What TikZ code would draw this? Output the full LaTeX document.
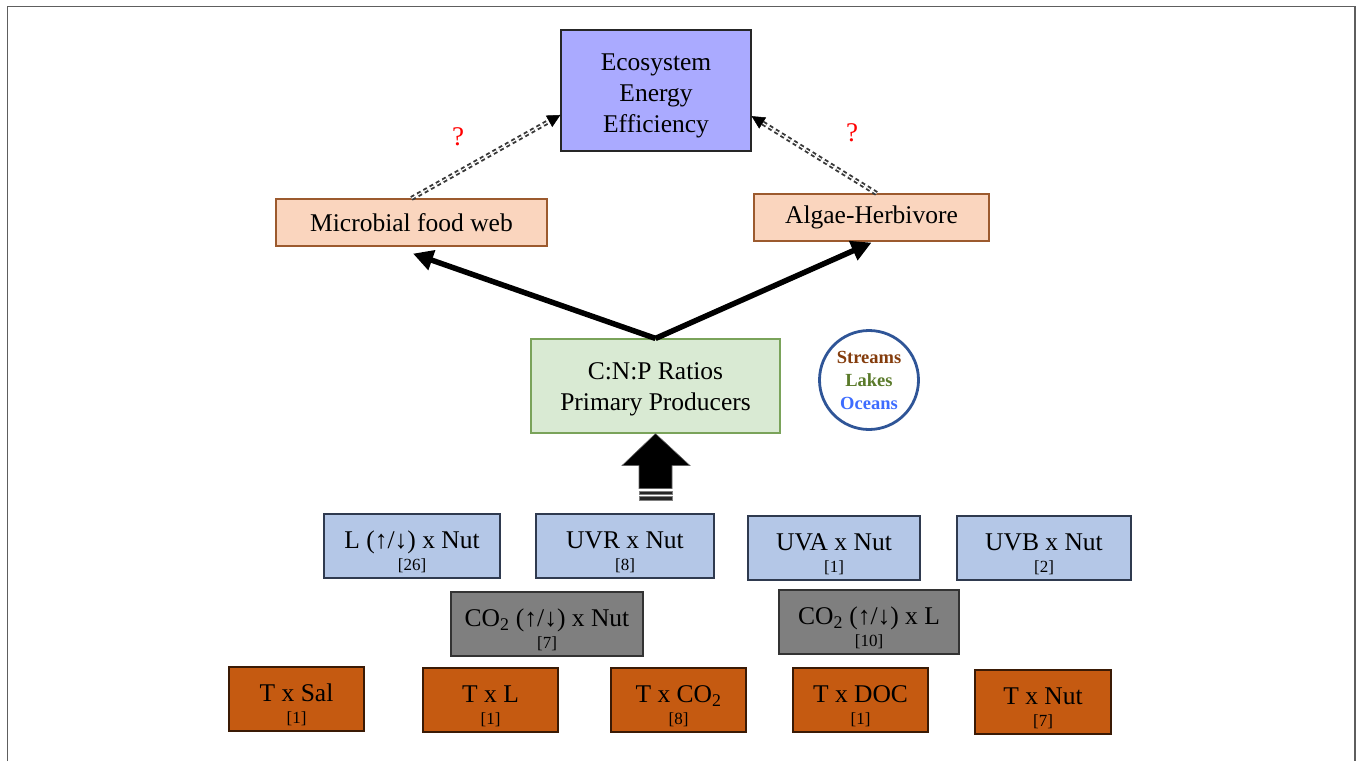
\documentclass[tikz,border=0pt]{standalone}
\usepackage{fontspec}
\setmainfont{Liberation Serif}
\usetikzlibrary{arrows.meta,calc}
\definecolor{ecofill}{HTML}{AAAAFF}
\definecolor{peachfill}{HTML}{FAD5BE}
\definecolor{peachdraw}{HTML}{9C5A2E}
\definecolor{greenfill}{HTML}{D9EAD3}
\definecolor{greendraw}{HTML}{7AA35A}
\definecolor{bluefill}{HTML}{B4C7E7}
\definecolor{bluedraw}{HTML}{2F3A4F}
\definecolor{grayfill}{HTML}{7F7F7F}
\definecolor{graydraw}{HTML}{333333}
\definecolor{orangefill}{HTML}{C55A11}
\definecolor{orangedraw}{HTML}{3A1A05}
\definecolor{circdraw}{HTML}{2F5597}
\definecolor{streamc}{HTML}{843C0C}
\definecolor{lakec}{HTML}{5A7A2A}
\definecolor{oceanc}{HTML}{3D6CFF}
\definecolor{framec}{HTML}{5E5E5E}
\newcommand\lbl[1]{{\fontsize{17}{17}\selectfont #1}}
\newcommand\tp[1]{\rule{0pt}{#1}}
\begin{document}
\begin{tikzpicture}[x=1pt,y=-1pt,
  basebox/.style={rectangle, inner sep=0pt, align=center, line width=1.2pt,
    font=\fontsize{25.5}{31}\selectfont},
  ecobox/.style={basebox, fill=ecofill, draw=black!85},
  peachbox/.style={basebox, fill=peachfill, draw=peachdraw, minimum height=47pt},
  greenbox/.style={basebox, fill=greenfill, draw=greendraw},
  bluebox/.style={basebox, fill=bluefill, draw=bluedraw, minimum height=64pt},
  graybox/.style={basebox, fill=grayfill, draw=graydraw, minimum height=64pt},
  orangebox/.style={basebox, fill=orangefill, draw=orangedraw, minimum height=64pt, minimum width=135pt},
  qmark/.style={text=red, font=\fontsize{27}{27}\selectfont},
  thickarrow/.style={line width=5.5pt, -{Triangle[length=20pt,width=20pt]}},
  dotline/.style={draw=black!78, line width=1.9pt, double=white, double distance=1.1pt,
    dash pattern=on 4pt off 3.2pt},
  dottip/.style={draw=black, line width=0.5pt, -{Triangle[length=13pt,width=13pt]}}
]
\useasboundingbox (0,0) rectangle (1357,761);
% frame
\draw[framec, line width=1.6pt] (7.5,761) -- (7.5,6.5) -- (1355,6.5) -- (1355,761);

% top nodes
\node[ecobox, minimum width=190pt, minimum height=121pt] (eco) at (656,90.5)
  {\tp{27pt}Ecosystem\\Energy\\Efficiency};
\node[peachbox, minimum width=271pt] (micro) at (411.5,222.5) {Microbial food web};
\node[peachbox, minimum width=235pt] (algae) at (871.5,217.5) {Algae-Herbivore};
\node[qmark] (q1) at (458,137) {?};
\node[qmark] (q2) at (852,133) {?};

% dotted arrows
\coordinate (ecoL) at ($(eco.north west)!0.70!(eco.south west)$);
\coordinate (ecoR) at ($(eco.north east)!0.71!(eco.south east)$);
\draw[dotline] (micro.north) -- ($(ecoL)!9pt!(micro.north)$);
\draw[dottip] ($(ecoL)!12pt!(micro.north)$) -- (ecoL);
\draw[dotline] ([xshift=5pt]algae.north) -- ($(ecoR)!9pt!([xshift=5pt]algae.north)$);
\draw[dottip] ($(ecoR)!12pt!([xshift=5pt]algae.north)$) -- (ecoR);

% CNP
\node[greenbox, minimum width=249pt, minimum height=94pt] (cnp) at (655.5,386)
  {\tp{24pt}C:N:P Ratios\\Primary Producers};
\draw[thickarrow] (cnp.north) -- ([xshift=1.5pt,yshift=-7pt]micro.south);
\draw[thickarrow] (cnp.north) -- ([yshift=-1pt]algae.south);

% circle
\node[circle, draw=circdraw, line width=2.8pt, minimum size=99pt, inner sep=0pt,
  align=center, font=\bfseries\fontsize{18.5}{23}\selectfont] (env) at (869,380)
  {\textcolor{streamc}{Streams}\\\textcolor{lakec}{Lakes}\\\textcolor{oceanc}{Oceans}};

% block arrow
\draw[fill=black, draw=black!60, line width=0.6pt] (cnp.south) -- ++(34.5,32) -- ++(-18,0)
  -- ++(0,23) -- ++(-33,0) -- ++(0,-23) -- ++(-17,0) -- cycle;
\draw[fill=black!85, draw=black!50, line width=0.5pt] ([shift={(-16.5,57.5)}]cnp.south) rectangle ([shift={(16.5,60.5)}]cnp.south);
\draw[fill=black!85, draw=black!50, line width=0.5pt] ([shift={(-16.5,63)}]cnp.south) rectangle ([shift={(16.5,67)}]cnp.south);

% row 1
\node[bluebox, minimum width=176pt] (Lnut) at (412,546) {\tp{29pt}L (↑/↓) x Nut\\[-9pt]\lbl{[26]}};
\node[bluebox, minimum width=178pt] (UVR) at (625,546) {\tp{29pt}UVR x Nut\\[-9pt]\lbl{[8]}};
\node[bluebox, minimum width=172pt] (UVA) at (834,548) {\tp{29pt}UVA x Nut\\[-9pt]\lbl{[1]}};
\node[bluebox, minimum width=174pt] (UVB) at (1044,548) {\tp{29pt}UVB x Nut\\[-9pt]\lbl{[2]}};

% row 2
\node[graybox, minimum width=192pt] (CO2Nut) at (547,624) {\tp{29pt}CO\textsubscript{2} (↑/↓) x Nut\\[-9pt]\lbl{[7]}};
\node[graybox, minimum width=180pt] (CO2L) at (869,622) {\tp{29pt}CO\textsubscript{2} (↑/↓) x L\\[-9pt]\lbl{[10]}};

% row 3
\node[orangebox] (TSal) at (296.5,699) {\tp{29pt}T x Sal\\[-9pt]\lbl{[1]}};
\node[orangebox] (TL) at (490.5,700) {\tp{29pt}T x L\\[-9pt]\lbl{[1]}};
\node[orangebox] (TCO2) at (678.5,700) {\tp{29pt}T x CO\textsubscript{2}\\[-9pt]\lbl{[8]}};
\node[orangebox] (TDOC) at (860.5,700) {\tp{29pt}T x DOC\\[-9pt]\lbl{[1]}};
\node[orangebox, minimum width=136pt] (TNut) at (1043,702) {\tp{29pt}T x Nut\\[-9pt]\lbl{[7]}};
\end{tikzpicture}
\end{document}
